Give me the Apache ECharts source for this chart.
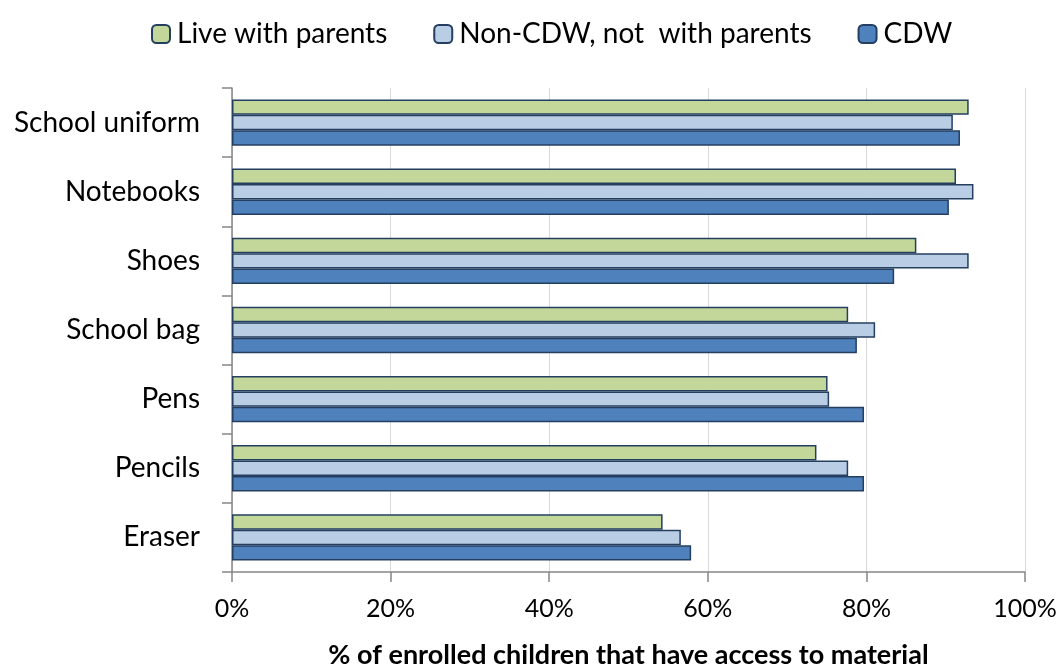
<!DOCTYPE html>
<html>
<head>
<meta charset="utf-8">
<script src="https://cdn.jsdelivr.net/npm/echarts@6/dist/echarts.min.js"></script>
<style>
  html, body { margin: 0; padding: 0; background: #fff; }
  #chart { width: 1063px; height: 670px; }
</style>
</head>
<body>
<div id="chart"></div>
<script>
  // categories, top to bottom
  var categories = ['School uniform', 'Notebooks', 'Shoes', 'School bag', 'Pens', 'Pencils', 'Eraser'];
  // % of enrolled children with access
  var liveWithParents = [92.9, 91.3, 86.3, 77.7, 75.1, 73.7, 54.3];
  var nonCdw = [90.9, 93.5, 92.9, 81.1, 75.3, 77.7, 56.6];
  var cdw = [91.8, 90.4, 83.5, 78.8, 79.7, 79.7, 57.9];
  var xTicks = [0, 20, 40, 60, 80, 100];

  var font = 'Lato, "Open Sans", sans-serif';
  var edge = '#243F60';

  var myChart = echarts.init(document.getElementById('chart'));
  myChart.setOption({
    animation: false,
    textStyle: { fontFamily: font },
    legend: {
      top: 15,
      left: 146,
      itemWidth: 18,
      itemHeight: 18,
      itemGap: 46,
      textStyle: { fontSize: 28, color: '#000', fontFamily: font, padding: [0, 0, 0, 2] },
      data: ['Live with parents', 'Non-CDW, not  with parents', 'CDW']
    },
    grid: { left: 232, right: 38, top: 88, bottom: 98, containLabel: false, outerBoundsMode: 'none' },
    xAxis: {
      type: 'value',
      min: xTicks[0],
      max: xTicks[xTicks.length - 1],
      interval: 20,
      name: '% of enrolled children that have access to material',
      nameLocation: 'middle',
      nameGap: 70,
      nameTextStyle: { fontSize: 27, fontWeight: 'bold', color: '#000', fontFamily: font },
      axisLine: { show: true, lineStyle: { color: '#868686', width: 1.5 } },
      axisTick: { show: true, length: 10, lineStyle: { color: '#868686', width: 1.5 } },
      axisLabel: {
        fontSize: 25, color: '#000', margin: 24,
        formatter: function (v) { return v + '%'; }
      },
      splitLine: { show: true, lineStyle: { color: '#d9d9d9', width: 1 } }
    },
    yAxis: {
      type: 'category',
      inverse: true,
      data: categories,
      axisLine: { show: true, lineStyle: { color: '#868686', width: 1.5 } },
      axisTick: { show: true, length: 10, alignWithLabel: false, lineStyle: { color: '#868686', width: 1.5 } },
      axisLabel: { fontSize: 28, color: '#000', margin: 32 }
    },
    series: [
      {
        name: 'Live with parents', type: 'bar', data: liveWithParents,
        barGap: '0%', barCategoryGap: '33%',
        itemStyle: { color: '#C4D79B', borderColor: edge, borderWidth: 1.5 }
      },
      {
        name: 'Non-CDW, not  with parents', type: 'bar', data: nonCdw,
        itemStyle: { color: '#B9CDE5', borderColor: edge, borderWidth: 1.5 }
      },
      {
        name: 'CDW', type: 'bar', data: cdw,
        itemStyle: { color: '#4F81BD', borderColor: edge, borderWidth: 1.5 }
      }
    ]
  });
</script>
</body>
</html>
